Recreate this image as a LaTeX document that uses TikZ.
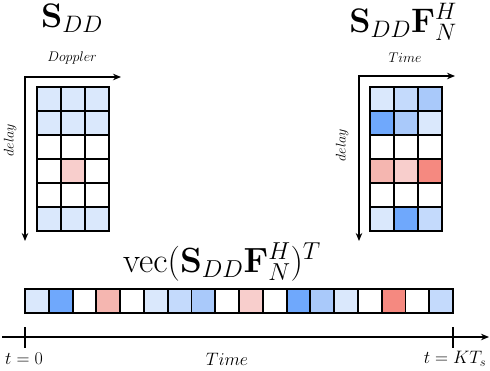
\RequirePackage{fix-cm}
\documentclass[tikz,border=0pt]{standalone}
\usetikzlibrary{arrows.meta}
\definecolor{lb}{RGB}{218,232,252}
\definecolor{mlb}{RGB}{196,218,252}
\definecolor{mb}{RGB}{169,201,250}
\definecolor{sb}{RGB}{111,168,252}
\definecolor{lp}{RGB}{248,206,204}
\definecolor{pk}{RGB}{245,182,176}
\definecolor{rd}{RGB}{245,137,128}
\definecolor{w}{RGB}{255,255,255}
\begin{document}
\begin{tikzpicture}[x=1pt,y=-1pt,
  cell/.style={draw=black,line width=1.9pt,minimum width=24pt,minimum height=24pt,inner sep=0pt,outer sep=0pt,anchor=north west},
  barcell/.style={cell,minimum width=23.78pt},
  ax/.style={line width=1.25pt},
  tip/.style={-{Stealth[length=8pt,width=6.5pt]}},
  small/.style={font=\fontsize{14}{16}\selectfont},
  big/.style={font=\fontsize{34}{38}\selectfont,anchor=base},
  mid/.style={font=\fontsize{35}{38}\selectfont,anchor=base},
  bot/.style={font=\fontsize{18}{20}\selectfont}]
\useasboundingbox (0,0) rectangle (490,370);
% left grid
\foreach \c [count=\i from 0] in {lb,lb,lb, lb,lb,lb, w,w,w, w,lp,w, w,w,w, lb,lb,lb}{
  \pgfmathtruncatemacro\r{div(\i,3)}
  \pgfmathtruncatemacro\k{mod(\i,3)}
  \node[cell,fill=\c] (L-\r-\k) at (37+24*\k, 87+24*\r) {};
}
% right grid
\foreach \c [count=\i from 0] in {lb,mlb,mb, sb,mb,lb, w,w,w, pk,lp,rd, w,w,w, lb,sb,mlb}{
  \pgfmathtruncatemacro\r{div(\i,3)}
  \pgfmathtruncatemacro\k{mod(\i,3)}
  \node[cell,fill=\c] (R-\r-\k) at (370+24*\k, 87+24*\r) {};
}
% bar
\foreach \c [count=\i from 0] in {lb,sb,w,pk,w,lb, mlb,mb,w,lp,w,sb, mb,lb,w,rd,w,mlb}{
  \node[barcell,fill=\c] (B-\i) at (25+23.78*\i, 289) {};
}
% axes
\coordinate (LO) at (25,77); \coordinate (LX) at (121,77); \coordinate (LY) at (25,241);
\coordinate (RO) at (359,76); \coordinate (RX) at (455,76); \coordinate (RY) at (359,241);
\draw[ax,{Stealth[length=8pt,width=6.5pt]}-{Stealth[length=8pt,width=6.5pt]}] (LX) -- (LO) -- (LY);
\draw[ax,{Stealth[length=8pt,width=6.5pt]}-{Stealth[length=8pt,width=6.5pt]}] (RX) -- (RO) -- (RY);
\node[small] (dop) at (72,58) {$Doppler$};
\node[small,rotate=90] (dl) at (10,140) {$delay$};
\node[small] (tim) at (405,58) {$Time$};
\node[small,rotate=90] (dr) at (342,145) {$delay$};
% titles
\node[big] (t1) at (72,27) {$\mathbf{S}_{DD}$};
\node[big] (t2) at (403,32) {$\mathbf{S}_{DD}\mathbf{F}_N^H$};
\node[mid] (t3) at (222,272) {$\mathrm{vec}(\mathbf{S}_{DD}\mathbf{F}_N^H)^T$};
% time axis
\coordinate (T0) at (2,337); \coordinate (T1) at (489,337);
\draw[ax,tip] (T0) -- (T1);
\coordinate (K0a) at (25,327); \coordinate (K0b) at (25,348);
\coordinate (K1a) at (453,327); \coordinate (K1b) at (453,348);
\draw[ax] (K0a) -- (K0b);
\draw[ax] (K1a) -- (K1b);
\node[bot] (l0) at (24,359) {$t=0$};
\node[bot] (lt) at (227,359) {$Time$};
\node[bot] (l1) at (455,359) {$t=KT_s$};
\end{tikzpicture}
\end{document}
